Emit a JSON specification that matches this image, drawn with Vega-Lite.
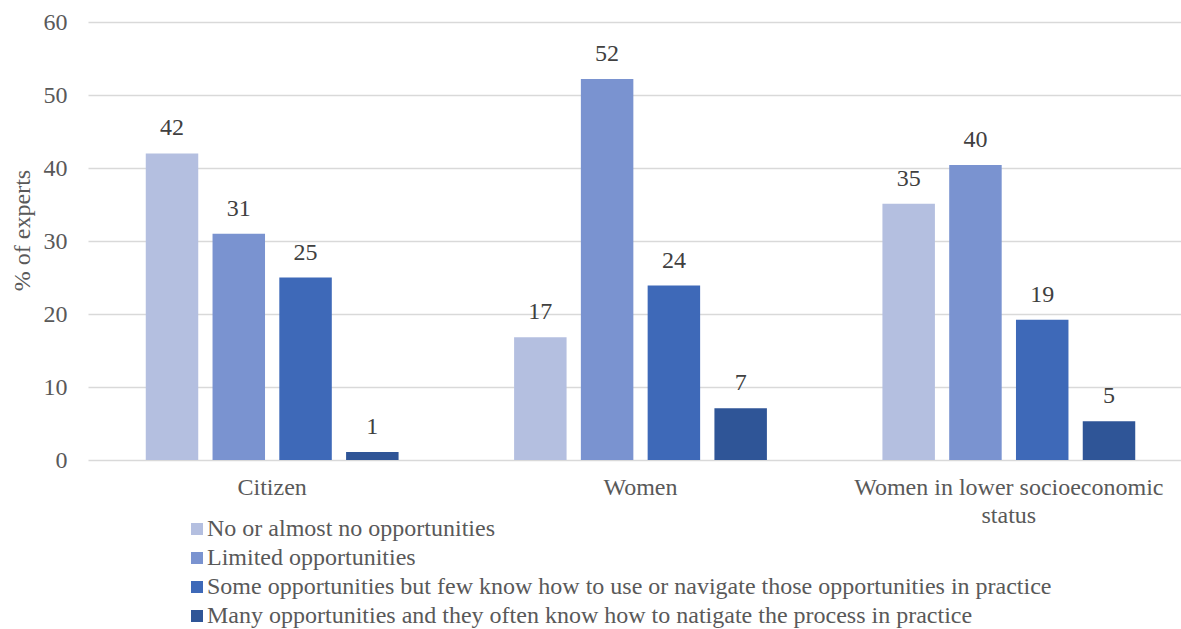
{
  "$schema": "https://vega.github.io/schema/vega-lite/v6.json",
  "width": 1105,
  "height": 438,
  "autosize": {"type": "none"},
  "padding": {"left": 88, "top": 22, "right": 0, "bottom": 169},
  "background": "white",
  "config": {
    "font": "Liberation Serif",
    "view": {"stroke": null}
  },
  "data": {
    "values": [
      {"group": "Citizen", "response": "No or almost no opportunities", "value": 42.0},
      {"group": "Citizen", "response": "Limited opportunities", "value": 31.0},
      {"group": "Citizen", "response": "Some opportunities but few know how to use or navigate those opportunities in practice", "value": 25.0},
      {"group": "Citizen", "response": "Many opportunities and they often know how to natigate the process in practice", "value": 1.1},
      {"group": "Women", "response": "No or almost no opportunities", "value": 16.8},
      {"group": "Women", "response": "Limited opportunities", "value": 52.2},
      {"group": "Women", "response": "Some opportunities but few know how to use or navigate those opportunities in practice", "value": 23.9},
      {"group": "Women", "response": "Many opportunities and they often know how to natigate the process in practice", "value": 7.1},
      {"group": "Women in lower socioeconomic status", "response": "No or almost no opportunities", "value": 35.1},
      {"group": "Women in lower socioeconomic status", "response": "Limited opportunities", "value": 40.4},
      {"group": "Women in lower socioeconomic status", "response": "Some opportunities but few know how to use or navigate those opportunities in practice", "value": 19.2},
      {"group": "Women in lower socioeconomic status", "response": "Many opportunities and they often know how to natigate the process in practice", "value": 5.3}
    ]
  },
  "encoding": {
    "x": {
      "field": "group",
      "type": "nominal",
      "sort": null,
      "scale": {"padding": 0},
      "axis": {
        "title": null,
        "labelAngle": 0,
        "domain": false,
        "ticks": false,
        "labelFont": "Liberation Serif",
        "labelFontSize": 24,
        "labelColor": "#595959",
        "labelPadding": 15,
        "labelLineHeight": 28,
        "labelLimit": 1000,
        "labelExpr": "datum.label == 'Women in lower socioeconomic status' ? ['Women in lower socioeconomic', 'status'] : datum.label"
      }
    },
    "xOffset": {
      "field": "response",
      "type": "nominal",
      "sort": null,
      "scale": {"paddingInner": 0.214, "paddingOuter": 0.865}
    },
    "y": {
      "field": "value",
      "type": "quantitative",
      "scale": {"domain": [0, 60], "nice": false},
      "axis": {
        "title": "% of experts",
        "values": [0, 10, 20, 30, 40, 50, 60],
        "domain": false,
        "ticks": false,
        "grid": true,
        "gridColor": "#D9D9D9",
        "gridWidth": 1.5,
        "labelFont": "Liberation Serif",
        "labelFontSize": 24,
        "labelColor": "#595959",
        "labelPadding": 21,
        "titleFont": "Liberation Serif",
        "titleFontSize": 24,
        "titleFontWeight": "normal",
        "titleColor": "#595959",
        "titleX": -54,
        "titleY": 208
      }
    }
  },
  "layer": [
    {
      "mark": {"type": "bar"},
      "encoding": {
        "color": {
          "field": "response",
          "type": "nominal",
          "sort": null,
          "scale": {
            "domain": [
              "No or almost no opportunities",
              "Limited opportunities",
              "Some opportunities but few know how to use or navigate those opportunities in practice",
              "Many opportunities and they often know how to natigate the process in practice"
            ],
            "range": ["#B4BFE0", "#7A93D0", "#3E69B8", "#2F5597"]
          },
          "legend": {
            "title": null,
            "orient": "none",
            "legendX": 97,
            "legendY": 495,
            "padding": 0,
            "direction": "vertical",
            "symbolType": "square",
            "symbolSize": 144,
            "symbolStrokeWidth": 0,
            "labelFont": "Liberation Serif",
            "labelFontSize": 24,
            "labelColor": "#595959",
            "labelLimit": 1000,
            "labelOffset": -2,
            "rowPadding": 5
          }
        }
      }
    },
    {
      "mark": {
        "type": "text",
        "baseline": "bottom",
        "dy": -13,
        "font": "Liberation Serif",
        "fontSize": 24,
        "color": "#404040"
      },
      "encoding": {
        "text": {"field": "value", "type": "quantitative", "format": ".0f"}
      }
    }
  ]
}
